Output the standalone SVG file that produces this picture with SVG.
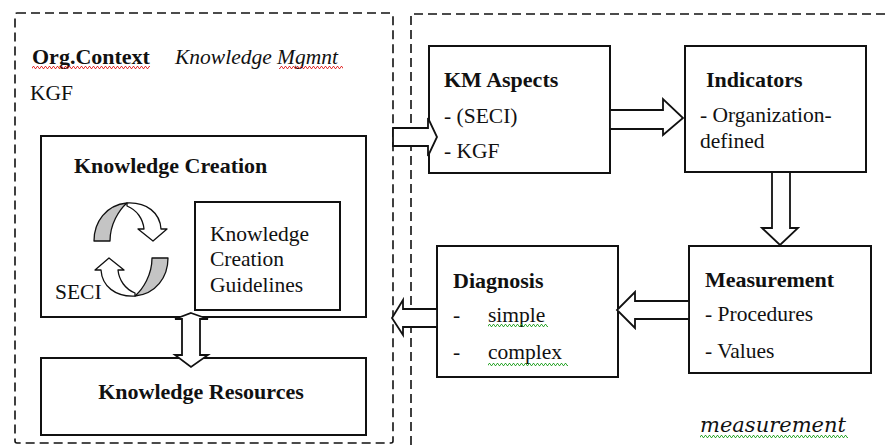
<svg xmlns="http://www.w3.org/2000/svg" width="888" height="445" viewBox="0 0 888 445">
  <defs>
    <style>
      .frame { fill: none; stroke: #111; stroke-width: 1.6; stroke-dasharray: 9 5; }
      .box { fill: #fff; stroke: #111; stroke-width: 2; }
      .arrow { fill: #fff; stroke: #111; stroke-width: 1.8; stroke-linejoin: miter; }
      .cyc { stroke: #111; stroke-width: 1.3; stroke-linejoin: round; }
      text { font-family: "Liberation Serif", "Times New Roman", serif; font-size: 21.5px; fill: #111; }
      .b { font-weight: bold; font-size: 22px; }
      .i { font-style: italic; }
      .deco { font-family: "DejaVu Serif", serif; font-style: italic; font-size: 21px; }
    </style>
    <pattern id="wavyRed" width="4" height="3" patternUnits="userSpaceOnUse">
      <path d="M0,2.5 L1,0.5 L2,0.5 L3,2.5 L4,2.5" fill="none" stroke="#e02020" stroke-width="0.9"/>
    </pattern>
    <pattern id="wavyGreen" width="4" height="3" patternUnits="userSpaceOnUse">
      <path d="M0,2.5 L1,0.5 L2,0.5 L3,2.5 L4,2.5" fill="none" stroke="#20a020" stroke-width="0.9"/>
    </pattern>
    <!-- one half of the SECI cycle: shaded back of the ribbon plus the white front with its head -->
    <g id="curl">
      <path class="cyc" fill="#c4c4c4" d="M94,241 C94,222 106,205 127,203 C119,210 110,224 110,241 Z"/>
      <path class="cyc" fill="#fff" d="M127,203 C147,202 160,213 161,229 L167,229 L153,241 L138,229 L144,229 C143,219 137,210 127,206 Z"/>
    </g>
  </defs>

  <rect width="888" height="445" fill="#fff"/>

  <!-- dashed frames -->
  <g id="frames">
    <rect class="frame" x="15" y="13" width="378" height="430" rx="2"/>
    <path class="frame" d="M411,445 L411,14 L890,14"/>
  </g>

  <!-- organisational context (left frame) -->
  <g id="org-context">
    <text class="b" x="32" y="64">Org.Context</text>
    <text class="i" x="175" y="64">Knowledge Mgmnt</text>
    <text x="30" y="100">KGF</text>
    <rect x="32" y="66" width="118" height="3" fill="url(#wavyRed)"/>
    <rect x="279" y="66" width="64" height="3" fill="url(#wavyRed)"/>
  </g>

  <g id="knowledge-creation">
    <rect class="box" x="41" y="136" width="325" height="181"/>
    <text class="b" x="74" y="173">Knowledge Creation</text>
    <use href="#curl"/>
    <use href="#curl" transform="rotate(180 131 249.5)"/>
    <text x="55" y="299">SECI</text>
  </g>

  <g id="guidelines">
    <rect class="box" x="195" y="202" width="145" height="108"/>
    <text x="210" y="241">Knowledge</text>
    <text x="210" y="266">Creation</text>
    <text x="210" y="292">Guidelines</text>
  </g>

  <g id="knowledge-resources">
    <rect class="box" x="41" y="358" width="325" height="77"/>
    <text class="b" x="201" y="399" text-anchor="middle">Knowledge Resources</text>
  </g>

  <!-- measurement (right frame) -->
  <g id="km-aspects">
    <rect class="box" x="429" y="46" width="181" height="127"/>
    <text class="b" x="444" y="87">KM Aspects</text>
    <text x="444" y="123">- (SECI)</text>
    <text x="444" y="158">- KGF</text>
  </g>

  <g id="indicators">
    <rect class="box" x="685" y="46" width="181" height="126"/>
    <text class="b" x="706" y="87">Indicators</text>
    <text x="700" y="122">- Organization-</text>
    <text x="700" y="148">defined</text>
  </g>

  <g id="measurement">
    <rect class="box" x="689" y="246" width="182" height="127"/>
    <text class="b" x="705" y="287">Measurement</text>
    <text x="705" y="321">- Procedures</text>
    <text x="705" y="358">- Values</text>
  </g>

  <g id="diagnosis">
    <rect class="box" x="437" y="246" width="181" height="131"/>
    <text class="b" x="453" y="288">Diagnosis</text>
    <text x="453" y="322">-</text>
    <text x="488" y="322">simple</text>
    <text x="453" y="359">-</text>
    <text x="488" y="359">complex</text>
    <rect x="488" y="324" width="60" height="3" fill="url(#wavyGreen)"/>
    <rect x="488" y="363" width="80" height="3" fill="url(#wavyGreen)"/>
  </g>

  <g id="frame-label">
    <text class="deco" x="700" y="432">measurement</text>
    <rect x="700" y="435" width="148" height="3" fill="url(#wavyGreen)"/>
  </g>

  <!-- block-arrow connectors -->
  <g id="connectors">
    <!-- Knowledge Creation <-> Knowledge Resources -->
    <polygon class="arrow" points="191,313 208,319 200,319 200,355 208,355 191,367 175,355 182,355 182,319 175,319"/>
    <!-- context -> KM Aspects -->
    <polygon class="arrow" points="393,128 428,128 428,118 437,137 428,156 428,146 393,146"/>
    <!-- KM Aspects -> Indicators -->
    <polygon class="arrow" points="610,110 663,110 663,99 683,118 663,135 663,129 610,129"/>
    <!-- Indicators -> Measurement -->
    <polygon class="arrow" points="772,172 790,172 790,228 798,228 780,245 762,228 772,228"/>
    <!-- Measurement -> Diagnosis -->
    <polygon class="arrow" points="689,301 635,301 635,292 617,310 635,328 635,319 689,319"/>
    <!-- Diagnosis -> context -->
    <polygon class="arrow" points="437,309 403,309 403,300 392,318 403,335 403,327 437,327"/>
  </g>
</svg>
